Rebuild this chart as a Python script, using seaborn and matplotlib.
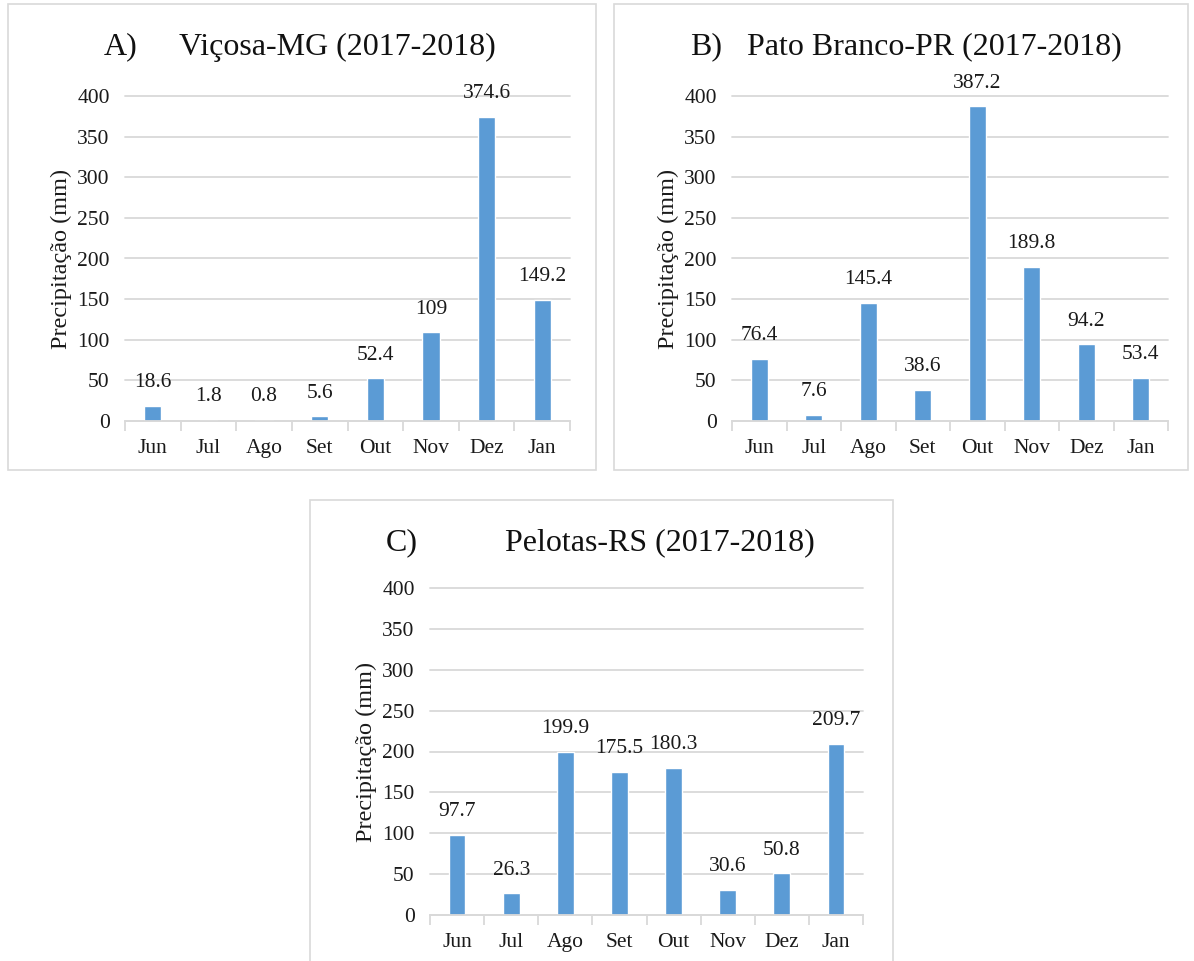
import matplotlib
matplotlib.use("Agg")
import numpy as np
import seaborn as sns
import matplotlib.pyplot as plt
from matplotlib.patches import Rectangle
from matplotlib.ticker import FixedLocator

months = ["Jun", "Jul", "Ago", "Set", "Out", "Nov", "Dez", "Jan"]
vicosa = [18.6, 1.8, 0.8, 5.6, 52.4, 109, 374.6, 149.2]
pato_branco = [76.4, 7.6, 145.4, 38.6, 387.2, 189.8, 94.2, 53.4]
pelotas = [97.7, 26.3, 199.9, 175.5, 180.3, 30.6, 50.8, 209.7]
yticks = [0, 50, 100, 150, 200, 250, 300, 350, 400]

sns.set_theme(style="white")
plt.rcParams["font.family"] = ["Liberation Serif", "DejaVu Serif"]

W, H = 1194, 961
fig = plt.figure(figsize=(W / 100, H / 100), dpi=100)

bar_color = "#5B9BD5"
grid_color = "#D9D9D9"
txt = "#1a1a1a"


def px_rect(x0, y0, x1, y1):
    # pixel box (top-left origin) -> figure fraction rect
    return [x0 / W, 1 - y1 / H, (x1 - x0) / W, (y1 - y0) / H]


def panel(box, axbox, values, letter, letter_x, title, title_x, title_y):
    fig.add_artist(Rectangle((box[0], box[1]), box[2], box[3],
                             transform=fig.transFigure, fill=False,
                             edgecolor=grid_color, linewidth=1.2))
    ax = fig.add_axes(axbox)
    sns.barplot(x=months, y=values, color=bar_color, width=0.31,
                saturation=1, ax=ax)
    ax.set_ylim(0, 400)
    ax.set_xlim(-0.5, 7.5)
    ax.set_yticks(yticks)
    ax.yaxis.grid(True, color=grid_color, linewidth=1.3)
    for gl in ax.get_ygridlines():
        gl.set_clip_on(False)
    ax.set_axisbelow(True)
    for s in ["top", "right", "left"]:
        ax.spines[s].set_visible(False)
    ax.spines["bottom"].set_color(grid_color)
    ax.spines["bottom"].set_linewidth(1.3)
    ax.xaxis.set_minor_locator(FixedLocator(np.arange(-0.5, 8, 1)))
    ax.tick_params(axis="x", which="minor", bottom=True, length=7,
                   color=grid_color, width=1.3)
    ax.tick_params(axis="x", which="major", bottom=False, pad=7,
                   labelsize=15.5, labelcolor=txt)
    ax.tick_params(axis="y", left=False, pad=5, labelsize=15.5,
                   labelcolor=txt)
    ax.set_xlabel("")
    ax.set_ylabel("Precipitação (mm)", fontsize=17.5, color=txt,
                  labelpad=4)
    ax.bar_label(ax.containers[0], labels=[f"{v:g}" for v in values],
                 padding=10, fontsize=15.5, color=txt)
    fig.text(letter_x / W, 1 - title_y / H, letter, fontsize=23,
             ha="left", va="center", color="#111111")
    fig.text(title_x / W, 1 - title_y / H, title, fontsize=23,
             ha="center", va="center", color="#111111")
    return ax


panel(px_rect(8, 4, 596, 470), px_rect(125, 96, 570, 421), vicosa,
      "A)", 104, "Viçosa-MG (2017-2018)", 337, 47)
panel(px_rect(614, 4, 1188, 470), px_rect(732, 96, 1168, 421), pato_branco,
      "B)", 690, "Pato Branco-PR (2017-2018)", 934, 47)
panel(px_rect(310, 500, 893, 975), px_rect(430, 588, 863, 915), pelotas,
      "C)", 386, "Pelotas-RS (2017-2018)", 660, 543)

fig.savefig("out.png", dpi=100)
